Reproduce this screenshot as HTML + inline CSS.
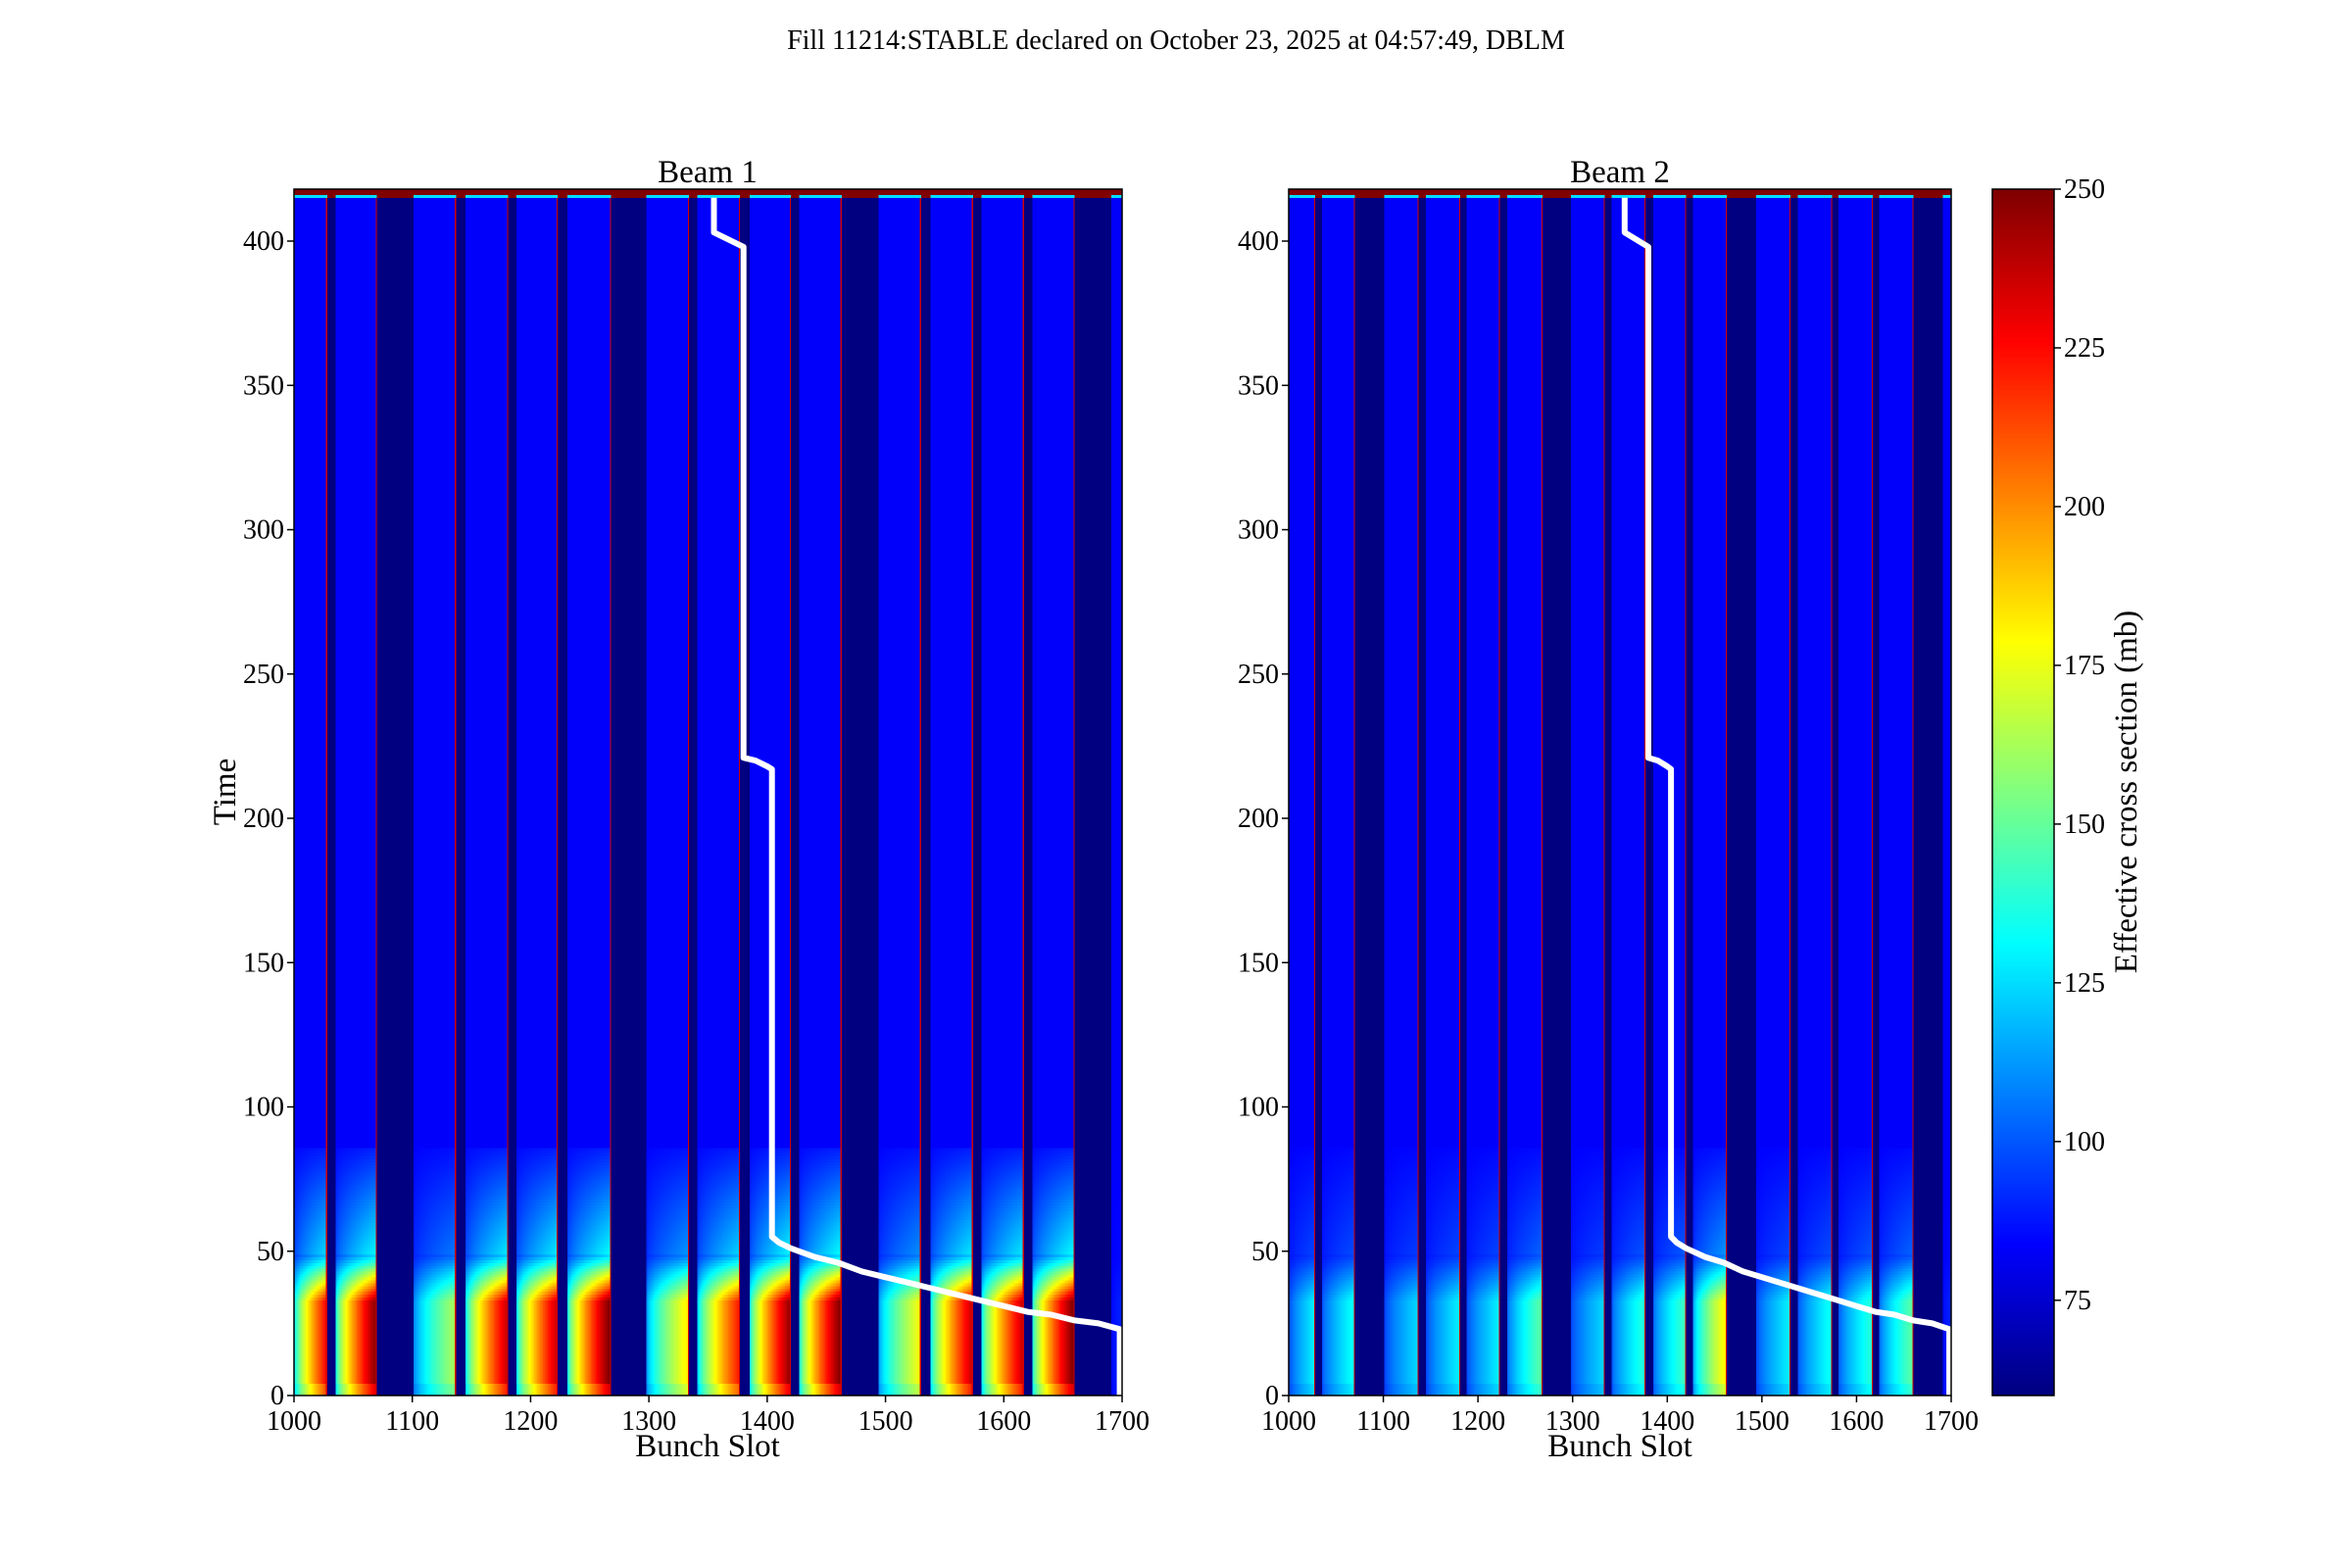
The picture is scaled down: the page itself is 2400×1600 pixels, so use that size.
<!DOCTYPE html>
<html><head><meta charset="utf-8">
<style>
html,body{margin:0;padding:0;background:#fff;}
#root{position:relative;width:2400px;height:1600px;overflow:hidden;font-family:"Liberation Serif",serif;}
canvas{position:absolute;image-rendering:pixelated;}
svg{position:absolute;left:0;top:0;}
</style></head>
<body>
<div id="root">
<canvas id="hm1" style="left:300px;top:193px;width:845px;height:1231px" width="700" height="419"></canvas>
<canvas id="hm2" style="left:1315px;top:193px;width:676px;height:1231px" width="700" height="419"></canvas>
<canvas id="cb" style="left:2033px;top:193px;width:63px;height:1231px" width="1" height="400"></canvas>
<svg id="ov" width="2400" height="1600">
<text x="1200" y="50" font-size="28" text-anchor="middle">Fill 11214:STABLE declared on October 23, 2025 at 04:57:49, DBLM</text>
<text x="722" y="186" font-size="33" text-anchor="middle">Beam 1</text>
<text x="1653" y="186" font-size="33" text-anchor="middle">Beam 2</text>
<text x="722" y="1486" font-size="33" text-anchor="middle">Bunch Slot</text>
<text x="1653" y="1486" font-size="33" text-anchor="middle">Bunch Slot</text>
<text x="0" y="0" font-size="33" text-anchor="middle" transform="translate(240,808) rotate(-90)">Time</text>
<text x="0" y="0" font-size="33" text-anchor="middle" transform="translate(2180,808) rotate(-90)">Effective cross section (mb)</text>
<g id="g1"></g><g id="g2"></g><g id="gcb"></g>
</svg>
</div>
<script>
// ---- data ----
const trainStarts = [1000,1035,1101,1145,1188,1231,1298,1341,1385,1427,1494,1538,1581,1624,1691];
const trainEnds   = [1028,1070,1137,1181,1223,1268,1334,1377,1420,1463,1530,1574,1617,1660,1700];
const peaks1 = [230,252,165,240,240,255,185,225,250,255,180,240,240,255,90];
const peaks2 = [130,135,125,130,130,150,125,140,145,185,130,135,140,150,90];
const lineSlots = [1355,1355,1380,1380,1390,1400,1404,1404,1410,1420,1440,1460,1480,1500,1520,1540,1560,1580,1600,1620,1640,1660,1680,1698,1698];
const lineTimes = [415,403,398,221,220,218,217,55,53,51,48,46,43,41,39,37,35,33,31,29,28,26,25,23,0];
const xTicks = [1000,1100,1200,1300,1400,1500,1600,1700];
const yTicks = [0,50,100,150,200,250,300,350,400];
const cbTicks = [75,100,125,150,175,200,225,250];
const VMIN=60, VMAX=250, TMAX=419, SMIN=1000, SMAX=1700;

const NS='http://www.w3.org/2000/svg';
function jet(v){const c=x=>Math.max(0,Math.min(1,x));
 return [c(1.5-Math.abs(4*v-3))*255,c(1.5-Math.abs(4*v-2))*255,c(1.5-Math.abs(4*v-1))*255];}
function norm(v){return Math.max(0,Math.min(1,(v-VMIN)/(VMAX-VMIN)));}
function prof(t){ if(t<=32) return t<4?0.9:1; if(t<=48) return 1-(t-32)/16*0.75; if(t<=85) return 0.25*(1-(t-48)/37)+0.04; return 0;}
function value(s,t,peaks,edge){
 let i=-1;
 for(let k=0;k<trainStarts.length;k++){ if(s>=trainStarts[k]&&s<trainEnds[k]){i=k;break;} }
 if(t>=416) return i<0?250:(t>=417?250:125);
 if(i<0) return 60;
 if(edge && s===trainEnds[i]-1 && i<14) return 235;
 const p=(s-trainStarts[i])/(trainEnds[i]-trainStarts[i]);
 const amp=peaks[i]-83;
 return 83+amp*prof(t)*(0.3+0.7*Math.pow(p,0.7));
}
function drawHeat(id,peaks){
 const cv=document.getElementById(id),ctx=cv.getContext('2d');
 const img=ctx.createImageData(700,TMAX);
 for(let r=0;r<TMAX;r++){const t=TMAX-1-r;
  for(let x=0;x<700;x++){const s=SMIN+x;
   const [R,G,B]=jet(norm(value(s,t,peaks,true)));
   const o=(r*700+x)*4; img.data[o]=R;img.data[o+1]=G;img.data[o+2]=B;img.data[o+3]=255;}}
 ctx.putImageData(img,0,0);
}
drawHeat('hm1',peaks1); drawHeat('hm2',peaks2);
(function(){const cv=document.getElementById('cb'),ctx=cv.getContext('2d');const img=ctx.createImageData(1,400);
 for(let r=0;r<400;r++){const [R,G,B]=jet(1-r/399);const o=r*4;img.data[o]=R;img.data[o+1]=G;img.data[o+2]=B;img.data[o+3]=255;}
 ctx.putImageData(img,0,0);})();

const TOP=193,BOT=1424;
function yScale(t){return BOT-(t/418)*(BOT-TOP);}
function mk(tag,attrs,parent){const e=document.createElementNS(NS,tag);for(const k in attrs)e.setAttribute(k,attrs[k]);parent.appendChild(e);return e;}
function drawAxes(gid,L,R,beam){
 const g=document.getElementById(gid);
 const xs=s=>L+(s-SMIN)/(SMAX-SMIN)*(R-L);
 let pts=lineSlots.map((s,i)=>xs(s).toFixed(1)+','+yScale(lineTimes[i]).toFixed(1)).join(' ');
 const pl=mk('polyline',{points:pts,fill:'none',stroke:'#fff','stroke-width':6,'stroke-linejoin':'round'},g);
 
 
 const fr=mk('rect',{x:L,y:TOP,width:R-L,height:BOT-TOP,fill:'none',stroke:'#000','stroke-width':1.5},g);
 
 
 xTicks.forEach(v=>{const x=xs(v);
  mk('line',{x1:x,x2:x,y1:BOT,y2:BOT+7,stroke:'#000','stroke-width':1.5},g);
  const t=mk('text',{x:x,y:BOT+35,'font-size':28,'text-anchor':'middle'},g);t.textContent=v;
  
  });
 yTicks.forEach(v=>{const y=yScale(v);
  mk('line',{x1:L-7,x2:L,y1:y,y2:y,stroke:'#000','stroke-width':1.5},g);
  const t=mk('text',{x:L-10,y:y+9,'font-size':28,'text-anchor':'end'},g);t.textContent=v;
  
  });
}
drawAxes('g1',300,1145,1); drawAxes('g2',1315,1991,2);
(function(){const g=document.getElementById('gcb');
 mk('rect',{x:2033,y:TOP,width:63,height:BOT-TOP,fill:'none',stroke:'#000','stroke-width':1.5},g);
 cbTicks.forEach(v=>{const y=BOT-(v-VMIN)/(VMAX-VMIN)*(BOT-TOP);
  mk('line',{x1:2096,x2:2103,y1:y,y2:y,stroke:'#000','stroke-width':1.5},g);
  const t=mk('text',{x:2106,y:y+9,'font-size':28},g);t.textContent=v;
  
  });})();
</script>
</body></html>
